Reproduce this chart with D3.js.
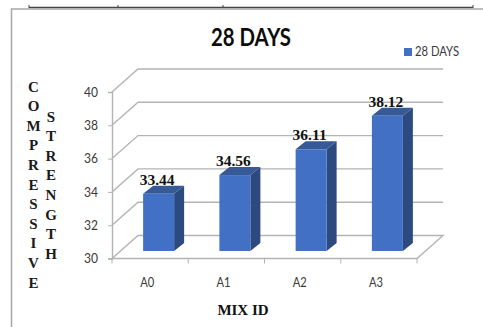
<!DOCTYPE html>
<html>
<head>
<meta charset="utf-8">
<script src="https://cdn.jsdelivr.net/npm/d3@7"></script>
<style>
html,body{margin:0;padding:0;background:#fff;}
svg{display:block;}
</style>
</head>
<body>
<svg id="chart" width="483" height="327"></svg>
<script>
const categories = ["A0", "A1", "A2", "A3"];
const strengths = [33.44, 34.56, 36.11, 38.12];
const yTicks = [30, 32, 34, 36, 38, 40];
const seriesName = "28 DAYS";
const yWordOne = "COMPRESSIVE";
const yWordTwo = "STRENGTH";
const xTitle = "MIX ID";
const pageRuleTicks = [29, 118, 223, 473];

const sans = "Lato, 'Open Sans', sans-serif";
const serif = "'Liberation Serif', serif";
const gridColor = "#b4b4b4";
const textColor = "#3a3a3a";

// Oblique offset of the back wall and of each bar's depth
const wall = {dx: 26, dy: -23};
const depth = {dx: 10, dy: -8};
const floorInset = 7.5;

const svg = d3.select("#chart");

const x = d3.scaleBand().domain(categories).range([112, 417]);
const y = d3.scaleLinear().domain([30, 40]).range([258.5, 92]);

// Page rule and chart frame
const rule = d3.scaleLinear().domain([29, 473]).range([29, 473]);
svg.append("line").attr("x1", rule(29)).attr("x2", rule(473)).attr("y1", 7.5).attr("y2", 7.5)
  .attr("stroke", "#444").attr("stroke-width", 1.5);
svg.selectAll(".rule-tick").data(pageRuleTicks).join("line")
  .attr("x1", d => rule(d)).attr("x2", d => rule(d)).attr("y1", 5).attr("y2", 8)
  .attr("stroke", "#444").attr("stroke-width", 1);
svg.append("path").attr("d", "M11.5,327V9H483").attr("fill", "none")
  .attr("stroke", "#a8a8a8").attr("stroke-width", 1.5);

// Back wall gridlines, and their returns along the side wall
const grid = svg.append("g").attr("fill", "none").attr("stroke", gridColor).attr("stroke-width", 1.4);
yTicks.forEach(t => {
  const p = d3.path();
  p.moveTo(x.range()[0], y(t));
  p.lineTo(x.range()[0] + wall.dx, y(t) + wall.dy);
  p.lineTo(x.range()[1] + wall.dx, y(t) + wall.dy);
  if (t === yTicks[0]) {
    p.lineTo(x.range()[1], y(t));
    p.closePath();
  }
  grid.append("path").attr("d", p.toString());
});

// Value axis
const yAxis = svg.append("g").attr("transform", `translate(${x.range()[0]},0)`)
  .call(d3.axisLeft(y).tickValues(yTicks).tickSize(4).tickPadding(10).tickFormat(d3.format("d")));
yAxis.select(".domain").attr("stroke", gridColor).attr("stroke-width", 1.4);
yAxis.selectAll(".tick line").attr("stroke", gridColor);
yAxis.selectAll("text").attr("font-family", sans).attr("font-size", 13).attr("fill", textColor)
  .attr("textLength", 14).attr("lengthAdjust", "spacingAndGlyphs");

// Category axis: labels from the axis, ticks on the band edges
const xAxis = svg.append("g").attr("transform", `translate(0,${y(30)})`)
  .call(d3.axisBottom(x).tickSize(0).tickPadding(19));
xAxis.select(".domain").remove();
xAxis.selectAll("text").attr("font-family", sans).attr("font-size", 13).attr("fill", textColor).attr("dx", -3)
  .attr("textLength", 14).attr("lengthAdjust", "spacingAndGlyphs");
svg.selectAll(".band-tick").data(categories.concat("end")).join("line")
  .attr("x1", (d, i) => x.range()[0] + i * x.step())
  .attr("x2", (d, i) => x.range()[0] + i * x.step())
  .attr("y1", y(30)).attr("y2", y(30) + 5)
  .attr("stroke", gridColor).attr("stroke-width", 1);

// Bars with oblique top and side faces
const barWidth = 31;
const barLeft = d => x(d) + x.bandwidth() / 2 - barWidth / 2 + 8.5;
const barTop = v => y(v) - floorInset;
const barBase = y(30) - floorInset;

const bars = svg.selectAll(".bar").data(categories.map((c, i) => ({c, v: strengths[i]}))).join("g");
bars.append("path").attr("fill", "#2c4a80").attr("d", d => {
  const l = barLeft(d.c) + barWidth, t = barTop(d.v);
  return `M${l},${t}l${depth.dx},${depth.dy}V${barBase + depth.dy}l${-depth.dx},${-depth.dy}Z`;
});
bars.append("path").attr("fill", "#375a96").attr("d", d => {
  const l = barLeft(d.c), t = barTop(d.v);
  return `M${l},${t}l${depth.dx},${depth.dy}h${barWidth}l${-depth.dx},${-depth.dy}Z`;
});
bars.append("rect").attr("fill", "#4270c4")
  .attr("x", d => barLeft(d.c)).attr("y", d => barTop(d.v))
  .attr("width", barWidth).attr("height", d => barBase - barTop(d.v));

// Value labels above each bar
bars.append("text")
  .attr("x", d => barLeft(d.c) + barWidth / 2 - 1.5)
  .attr("y", d => barTop(d.v) - 9)
  .attr("text-anchor", "middle")
  .attr("font-family", serif).attr("font-weight", "bold").attr("font-size", 15.5).attr("fill", "#111")
  .text(d => d.v.toFixed(2));

// Title, narrowed to the width of a condensed face
svg.append("text").attr("x", 251).attr("y", 46).attr("text-anchor", "middle")
  .attr("font-family", sans).attr("font-weight", "bold").attr("font-size", 24).attr("fill", "#0c0c0c")
  .attr("textLength", 80).attr("lengthAdjust", "spacingAndGlyphs")
  .text(seriesName);

// Legend
svg.append("rect").attr("x", 404).attr("y", 48).attr("width", 8).attr("height", 8).attr("fill", "#4270c4");
svg.append("text").attr("x", 415).attr("y", 56).attr("font-family", sans).attr("font-size", 12.5)
  .attr("fill", textColor).attr("textLength", 44).attr("lengthAdjust", "spacingAndGlyphs")
  .text(seriesName);

// Stacked axis title, one letter per row
function stacked(word, cx, firstY) {
  svg.append("g").selectAll("text").data(word.split("")).join("text")
    .attr("x", cx).attr("y", (d, i) => firstY + i * 19.6)
    .attr("text-anchor", "middle")
    .attr("font-family", serif).attr("font-weight", "bold").attr("font-size", 15).attr("fill", "#1a1a1a")
    .text(d => d);
}
stacked(yWordOne, 33.5, 91.5);
stacked(yWordTwo, 51, 121.5);

svg.append("text").attr("x", 243).attr("y", 315).attr("text-anchor", "middle")
  .attr("font-family", serif).attr("font-weight", "bold").attr("font-size", 15).attr("fill", "#111")
  .text(xTitle);
</script>
</body>
</html>
